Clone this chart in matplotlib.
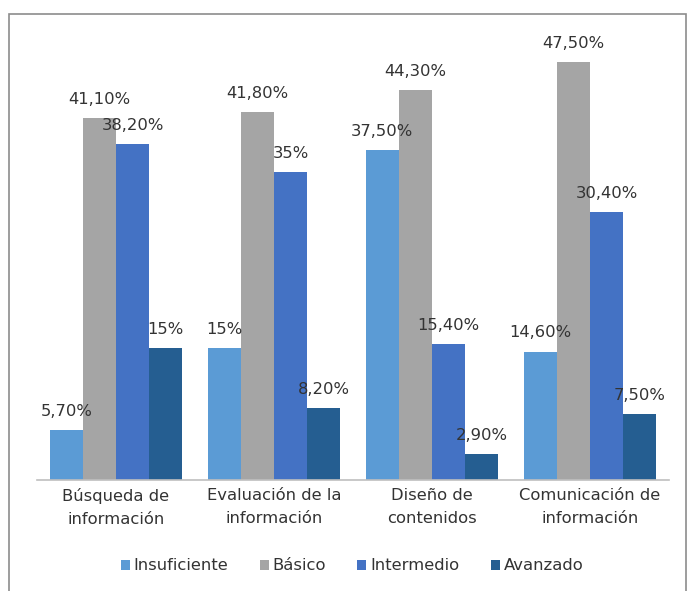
import matplotlib
matplotlib.use("Agg")
import matplotlib.pyplot as plt
import numpy as np
from matplotlib.patches import Rectangle

# data
categories = ["Búsqueda de\ninformación", "Evaluación de la\ninformación",
              "Diseño de\ncontenidos", "Comunicación de\ninformación"]
series = ["Insuficiente", "Básico", "Intermedio", "Avanzado"]
insuficiente = [5.7, 15, 37.5, 14.6]
basico = [41.1, 41.8, 44.3, 47.5]
intermedio = [38.2, 35, 15.4, 30.4]
avanzado = [15, 8.2, 2.9, 7.5]
values = [insuficiente, basico, intermedio, avanzado]
labels = [["5,70%", "15%", "37,50%", "14,60%"],
          ["41,10%", "41,80%", "44,30%", "47,50%"],
          ["38,20%", "35%", "15,40%", "30,40%"],
          ["15%", "8,20%", "2,90%", "7,50%"]]
colors = ["#5B9BD5", "#A5A5A5", "#4472C4", "#255E91"]
text_color = "#333333"
fs = 11.8

fig = plt.figure(figsize=(6.89, 5.91), dpi=100)
ax = fig.add_axes([37/689, 1 - 480/591, (669 - 37)/689, (480 - 40)/591])

# outer chart border
fig.patches.append(Rectangle((9/689, -0.05), (686 - 9)/689, 1.05 - 14/591,
                             transform=fig.transFigure, fill=False,
                             edgecolor="#8C8C8C", linewidth=1.2))

x = np.arange(len(categories))
w = 0.21
for i, (vals, c) in enumerate(zip(values, colors)):
    bars = ax.bar(x + (i - 1.5) * w, vals, w, color=c, label=series[i])
    ax.bar_label(bars, labels=labels[i], padding=8, fontsize=fs, color=text_color)

ax.set_xlim(-0.5, len(categories) - 0.5)
ax.set_ylim(0, 50)
ax.set_yticks([])
ax.set_xticks(x)
ax.set_xticklabels(categories, fontsize=fs, color=text_color, linespacing=1.6)
ax.tick_params(axis="x", length=0, pad=6)
for s in ["top", "right", "left"]:
    ax.spines[s].set_visible(False)
ax.spines["bottom"].set_color("#BFBFBF")
ax.spines["bottom"].set_linewidth(1.2)

leg = fig.legend(loc="center", bbox_to_anchor=(352/689, 1 - 566/591), ncol=4,
                 frameon=False, fontsize=fs, handlelength=0.55, handleheight=0.55,
                 handletextpad=0.25, columnspacing=1.9)
for t in leg.get_texts():
    t.set_color(text_color)

fig.savefig("out.png", dpi=100)
